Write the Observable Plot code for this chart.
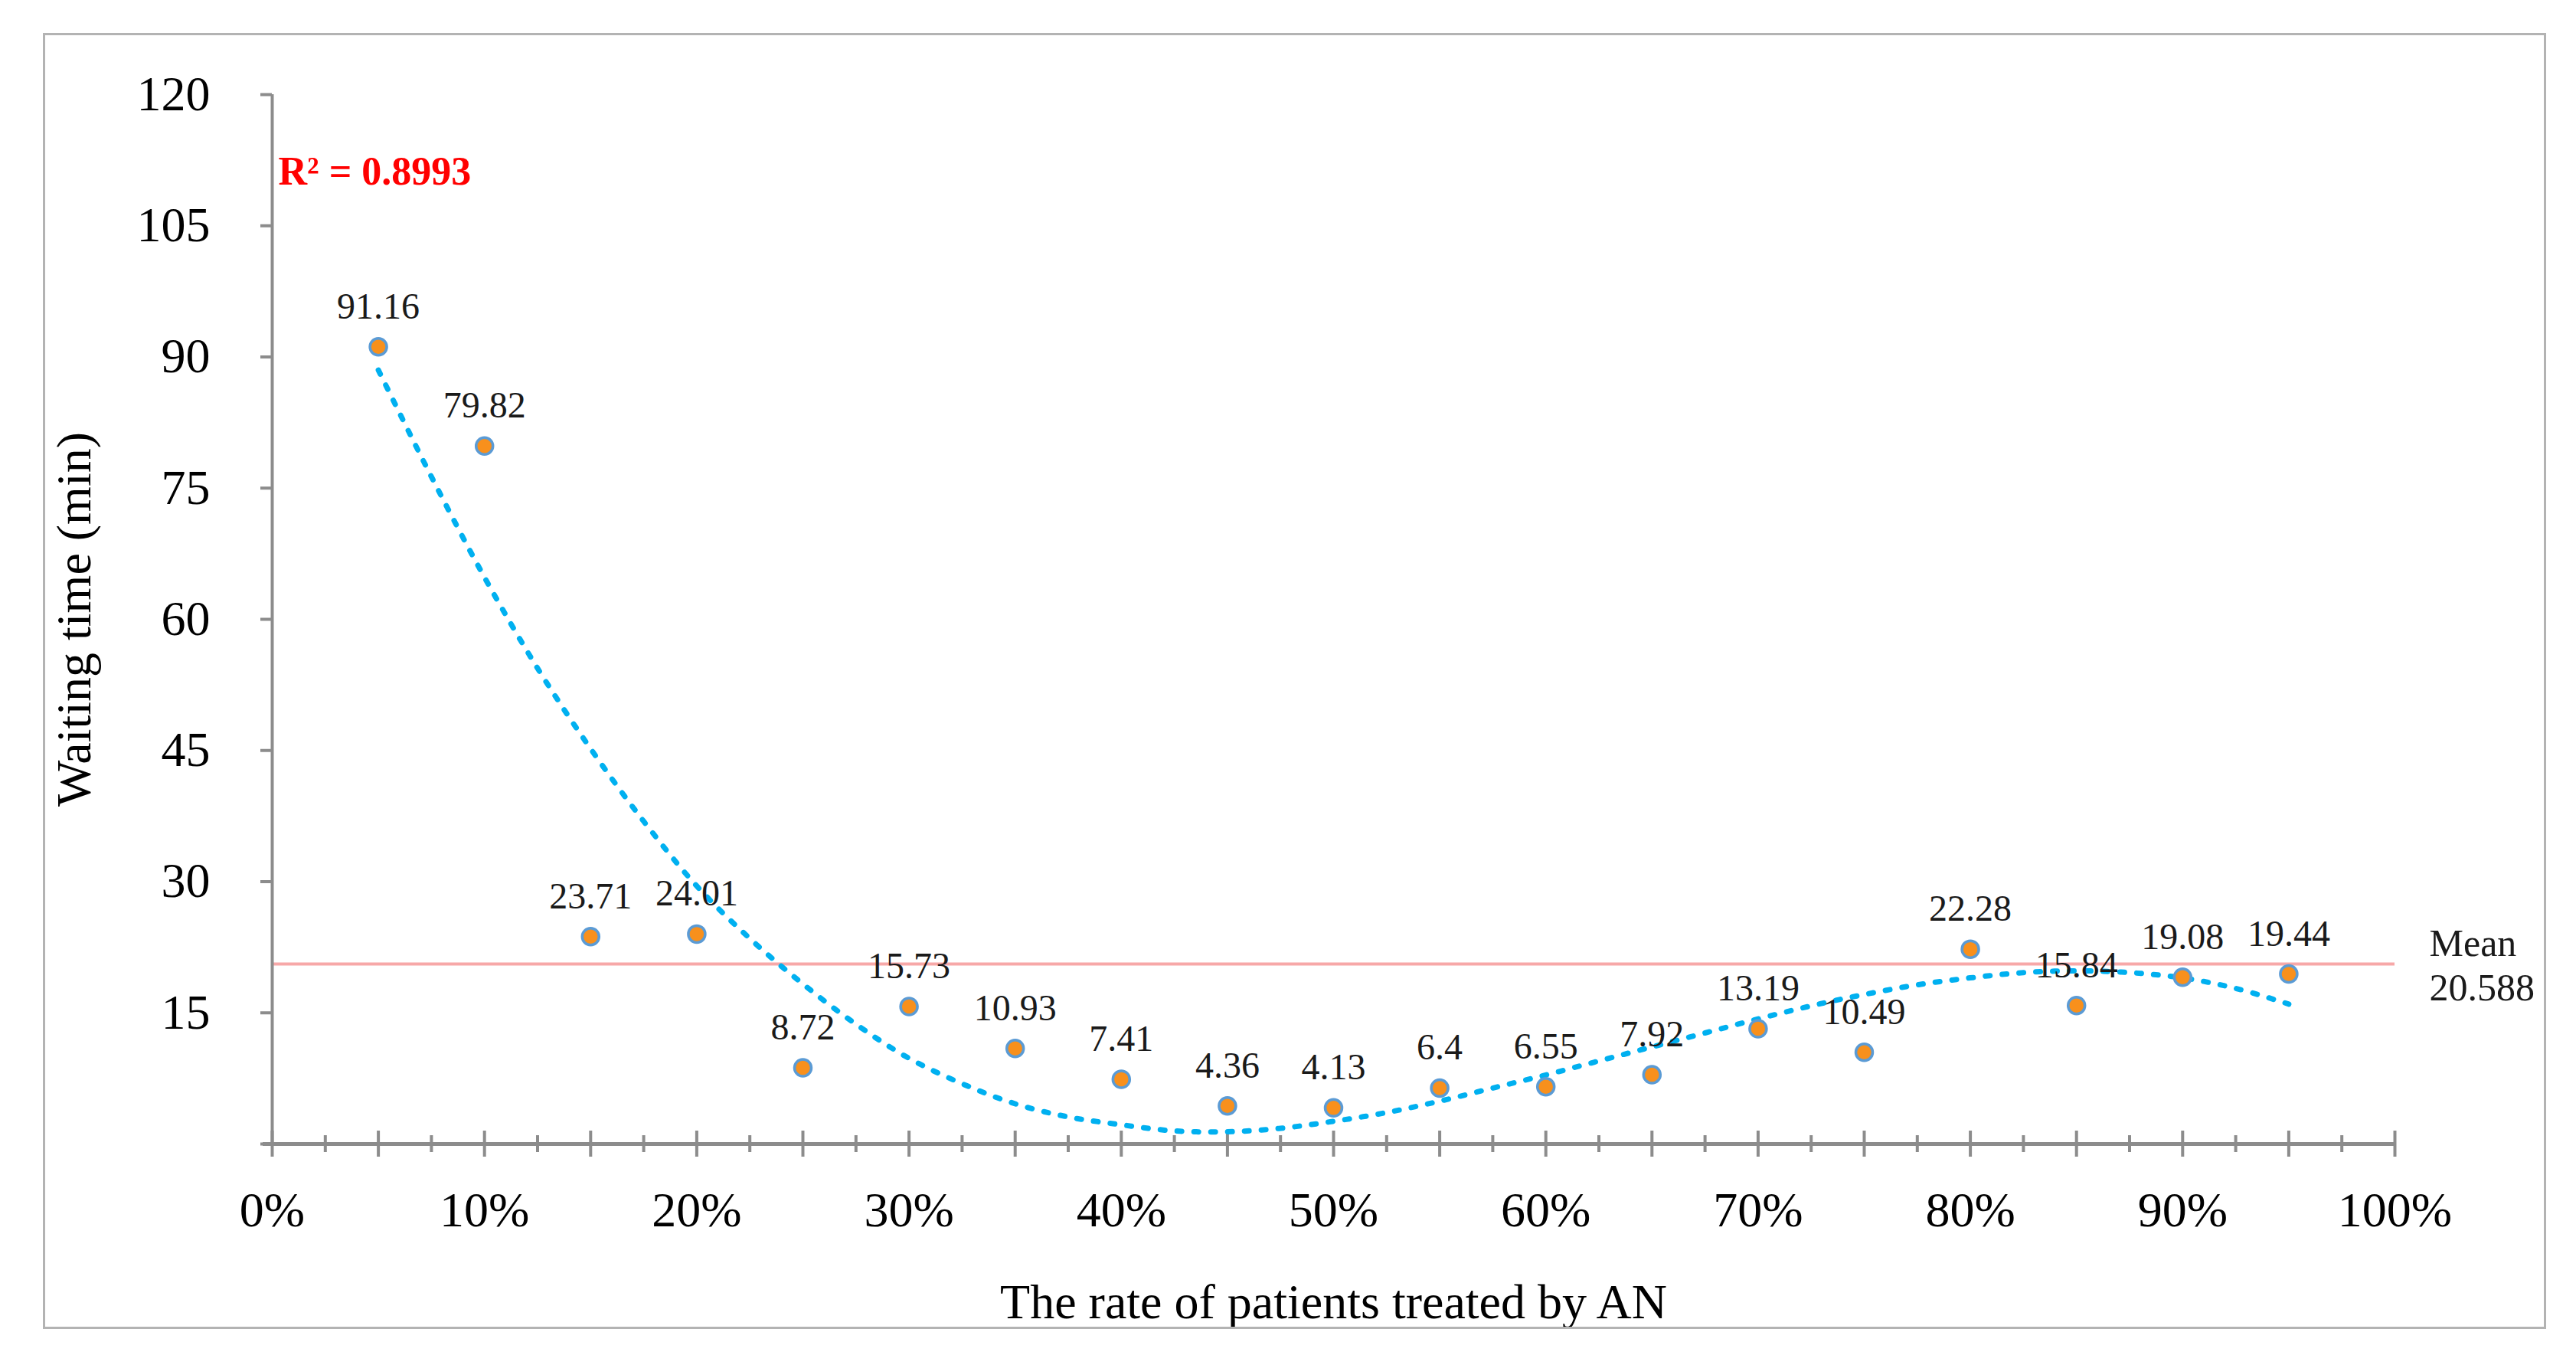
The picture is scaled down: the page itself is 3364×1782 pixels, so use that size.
<!DOCTYPE html>
<html>
<head>
<meta charset="utf-8">
<script src="https://cdn.jsdelivr.net/npm/d3@7"></script>
<script src="https://cdn.jsdelivr.net/npm/@observablehq/plot@0.6"></script>
<style>
  html, body { margin: 0; padding: 0; background: #ffffff; }
  #wrap { position: relative; width: 3364px; height: 1782px; }
  #border { position: absolute; left: 56px; top: 43px; width: 3263px; height: 1686px; border: 3px solid #b3b3b3; box-sizing: content-box; pointer-events: none; }
</style>
</head>
<body>
<div id="wrap"><div id="border"></div></div>
<script>
// ---- data ----
const rates = [5, 10, 15, 20, 25, 30, 35, 40, 45, 50, 55, 60, 65, 70, 75, 80, 85, 90, 95];
const waiting = [91.16, 79.82, 23.71, 24.01, 8.72, 15.73, 10.93, 7.41, 4.36, 4.13, 6.4, 6.55, 7.92, 13.19, 10.49, 22.28, 15.84, 19.08, 19.44];
const waitingLabels = ["91.16", "79.82", "23.71", "24.01", "8.72", "15.73", "10.93", "7.41", "4.36", "4.13", "6.4", "6.55", "7.92", "13.19", "10.49", "22.28", "15.84", "19.08", "19.44"];
// polynomial trend line
const trendRates = [5, 7.5, 10, 12.5, 15, 17.5, 20, 22.5, 25, 27.5, 30, 32.5, 35, 37.5, 40, 42.5, 45, 47.5, 50, 52.5, 55, 57.5, 60, 62.5, 65, 67.5, 70, 72.5, 75, 77.5, 80, 82.5, 85, 87.5, 90, 92.5, 95];
const trendValues = [88.5, 76.3, 64.8, 54.4, 45.2, 36.9, 29.5, 23.5, 18.3, 13.7, 9.8, 6.9, 4.6, 3.1, 2.2, 1.5, 1.4, 1.8, 2.6, 3.6, 4.9, 6.4, 7.9, 9.5, 11.1, 12.7, 14.3, 15.8, 17.1, 18.2, 19.0, 19.6, 19.8, 19.6, 19.0, 17.8, 16.0];
const meanValue = 20.588;
const meanLabel = "Mean\n20.588";
const r2Label = "R² = 0.8993";
const yTicks = [0, 15, 30, 45, 60, 75, 90, 105, 120];
const yTickLabels = ["", "15", "30", "45", "60", "75", "90", "105", "120"];
const xLabelTicks = [0, 10, 20, 30, 40, 50, 60, 70, 80, 90, 100];
const xLabelText = ["0%", "10%", "20%", "30%", "40%", "50%", "60%", "70%", "80%", "90%", "100%"];
const xMajorTicks = [0, 5, 10, 15, 20, 25, 30, 35, 40, 45, 50, 55, 60, 65, 70, 75, 80, 85, 90, 95, 100];
const xMinorTicks = [2.5, 7.5, 12.5, 17.5, 22.5, 27.5, 32.5, 37.5, 42.5, 47.5, 52.5, 57.5, 62.5, 67.5, 72.5, 77.5, 82.5, 87.5, 92.5, 97.5];
const xTitle = "The rate of patients treated by AN";
const yTitle = "Waiting time (min)";

const points = rates.map((r, i) => ({rate: r, wait: waiting[i], label: waitingLabels[i]}));
const trend = trendRates.map((r, i) => ({rate: r, wait: trendValues[i]}));

const axisGray = "#8c8c8c";
const font = "'Liberation Serif', 'Times New Roman', serif";

const chart = Plot.plot({
  width: 3364,
  height: 1782,
  marginLeft: 355,
  marginRight: 237,
  marginTop: 123,
  marginBottom: 289,
  x: {domain: [0, 100], axis: null},
  y: {domain: [0, 120], axis: null},
  style: {fontFamily: font, background: "transparent", color: "black", fontSize: "64px"},
  marks: [
    // mean line
    Plot.ruleY([meanValue], {stroke: "#f7a8a8", strokeWidth: 4}),
    // y axis
    Plot.ruleX([0], {stroke: axisGray, strokeWidth: 4}),
    Plot.axisY(yTicks, {anchor: "left", tickSize: 15, tickPadding: 66, stroke: axisGray, strokeWidth: 4, fill: "black", fontSize: 64, label: null, tickFormat: d => yTickLabels[yTicks.indexOf(d)]}),
    // x axis
    Plot.ruleY([0], {stroke: axisGray, strokeWidth: 5, insetLeft: -12}),
    Plot.axisX(xMajorTicks, {anchor: "bottom", tickSize: 34, dy: -17, stroke: axisGray, strokeWidth: 4, tickFormat: () => "", label: null}),
    Plot.axisX(xMinorTicks, {anchor: "bottom", tickSize: 22, dy: -11, stroke: axisGray, strokeWidth: 4, tickFormat: () => "", label: null}),
    Plot.axisX(xLabelTicks, {anchor: "bottom", tickSize: 0, tickPadding: 62, fill: "black", fontSize: 64, label: null, tickFormat: d => xLabelText[xLabelTicks.indexOf(d)]}),
    // trend line
    Plot.line(trend, {x: "rate", y: "wait", curve: "catmull-rom", stroke: "#00b0f0", strokeWidth: 7, strokeDasharray: "6 16", strokeLinecap: "round"}),
    // points
    Plot.dot(points, {x: "rate", y: "wait", r: 11, fill: "#f8901c", stroke: "#5b9bd5", strokeWidth: 3.5}),
    Plot.text(points, {x: "rate", y: "wait", text: "label", dy: -37, lineAnchor: "bottom", textAnchor: "middle", fontSize: 48, fill: "#1a1a1a"}),
    // mean label
    Plot.text([meanValue], {x: 100, y: d => d, text: () => meanLabel, dx: 45, textAnchor: "start", lineAnchor: "middle", lineHeight: 1.16, fontSize: 50, fill: "#1a1a1a"}),
    // R squared
    Plot.text([r2Label], {frameAnchor: "top-left", text: d => d, dx: 8, dy: 117, textAnchor: "start", lineAnchor: "bottom", fontSize: 52, fontWeight: "bold", fill: "#ff0000"}),
    // axis titles
    Plot.text([xTitle], {frameAnchor: "bottom", text: d => d, dy: 227, lineAnchor: "bottom", textAnchor: "middle", fontSize: 64, fill: "black"}),
    Plot.text([yTitle], {frameAnchor: "left", text: d => d, dx: -258, rotate: -90, textAnchor: "middle", lineAnchor: "middle", fontSize: 64, fill: "black"})
  ]
});
chart.style.position = "absolute";
chart.style.left = "0px";
chart.style.top = "0px";
document.getElementById("wrap").prepend(chart);
</script>
</body>
</html>
